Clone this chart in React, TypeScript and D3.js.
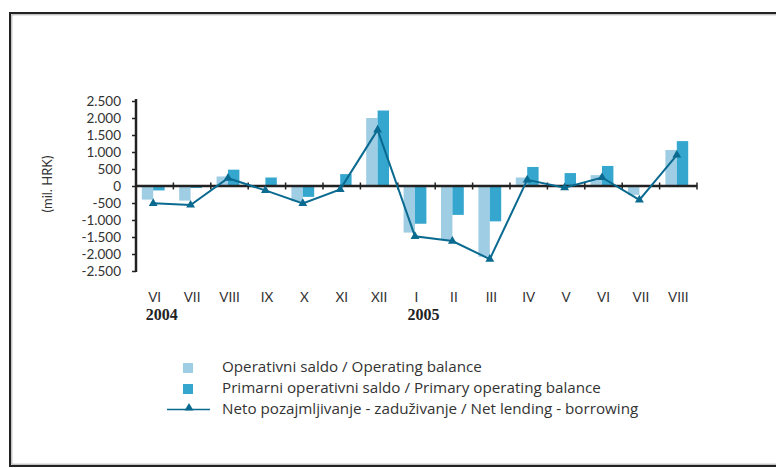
import * as d3 from "d3";
import { useEffect, useRef } from "react";

const WIDTH = 776;
const HEIGHT = 468;
const MARGIN = { top: 101, left: 136, right: 81, bottom: 197 };

const categories = ["VI", "VII", "VIII", "IX", "X", "XI", "XII", "I", "II", "III", "IV", "V", "VI", "VII", "VIII"];
const years = [{ index: 0, label: "2004" }, { index: 7, label: "2005" }];
const operatingBalance = [-400, -430, 280, -20, -450, 20, 2000, -1370, -1590, -2080, 250, -30, 320, -260, 1060];
const primaryBalance = [-130, -60, 480, 250, -320, 350, 2220, -1110, -850, -1040, 560, 380, 590, -10, 1320];
const netLending = [-510, -560, 230, -130, -510, -100, 1650, -1480, -1620, -2150, 180, -50, 250, -410, 910];
const yTicks = [-2500, -2000, -1500, -1000, -500, 0, 500, 1000, 1500, 2000, 2500];
const legendLabels = [
  "Operativni saldo / Operating balance",
  "Primarni operativni saldo / Primary operating balance",
  "Neto pozajmljivanje - zaduživanje / Net lending - borrowing",
];

const LIGHT = "#9fcde4";
const DARK = "#35a7cf";
const LINE = "#0a6a90";
const FONT = "Lato, 'Open Sans', sans-serif";
const LEGEND_FONT = "'Open Sans', Lato, sans-serif";

const fmt = (v: number) => d3.format(",")(v).replace(/,/g, ".").replace("\u2212", "-");

export default function App() {
  const ref = useRef<SVGSVGElement>(null);

  useEffect(() => {
    const svg = d3.select(ref.current);
    svg.selectAll("*").remove();

    // frame
    svg.append("rect").attr("x", 10).attr("y", 13).attr("width", 800).attr("height", 453)
      .attr("fill", "white").attr("stroke", "#222").attr("stroke-width", 2);
    svg.append("rect").attr("x", 11.8).attr("y", 14.8).attr("width", 800).attr("height", 449.4)
      .attr("fill", "none").attr("stroke", "#aaa").attr("stroke-width", 1);

    const x0 = MARGIN.left;
    const x1 = WIDTH - MARGIN.right + 2;
    const x = d3.scaleBand().domain(categories.map((_, i) => String(i))).range([x0, x1]);
    const y = d3.scaleLinear().domain([-2500, 2500]).range([HEIGHT - MARGIN.bottom, MARGIN.top]);
    const bw = 11.4;

    const g = svg.append("g");

    // bars
    const cx = (i: number) => (x(String(i)) as number) + x.bandwidth() / 2 - 1.5;
    g.selectAll(".op").data(operatingBalance).enter().append("rect")
      .attr("x", (_, i) => cx(i) - bw)
      .attr("width", bw)
      .attr("y", (d) => y(Math.max(0, d)))
      .attr("height", (d) => Math.abs(y(d) - y(0)))
      .attr("fill", LIGHT);
    g.selectAll(".pr").data(primaryBalance).enter().append("rect")
      .attr("x", (_, i) => cx(i))
      .attr("width", bw)
      .attr("y", (d) => y(Math.max(0, d)))
      .attr("height", (d) => Math.abs(y(d) - y(0)))
      .attr("fill", DARK);

    // y axis
    const yAxis = g.append("g").attr("transform", `translate(${x0},0)`)
      .call(d3.axisLeft(y).tickValues(yTicks).tickSize(4).tickPadding(11).tickFormat((d) => fmt(d as number)));
    yAxis.select(".domain").attr("stroke", "#222").attr("stroke-width", 2.5)
      .attr("d", `M0,${y(-2500) + 1}V${y(2500) - 2}`);
    yAxis.selectAll(".tick line").attr("stroke", "#222").attr("stroke-width", 1.5);
    yAxis.selectAll(".tick text").attr("font-family", FONT).attr("font-size", 13.5).attr("fill", "#333");

    // x axis at zero
    const zero = y(0);
    g.append("line").attr("x1", x0).attr("x2", x1).attr("y1", zero).attr("y2", zero)
      .attr("stroke", "#222").attr("stroke-width", 2.5);
    const bounds = categories.map((_, i) => (x(String(i)) as number) + x.bandwidth());
    g.selectAll(".xt").data(bounds).enter().append("line")
      .attr("x1", (d) => d).attr("x2", (d) => d)
      .attr("y1", zero - 3.5).attr("y2", zero + 3.5)
      .attr("stroke", "#222").attr("stroke-width", 1.5);

    // category labels
    g.selectAll(".cat").data(categories).enter().append("text")
      .attr("x", (_, i) => (x(String(i)) as number) + x.bandwidth() / 2)
      .attr("y", 302)
      .attr("text-anchor", "middle")
      .attr("font-family", FONT).attr("font-size", 13.5).attr("fill", "#333")
      .text((d) => d);
    g.selectAll(".yr").data(years).enter().append("text")
      .attr("x", (d) => (x(String(d.index)) as number) + x.bandwidth() / 2 - 9)
      .attr("y", 320)
      .attr("font-family", "'Liberation Serif', serif").attr("font-weight", "bold")
      .attr("font-size", 16).attr("fill", "#222")
      .text((d) => d.label);

    // line series
    const line = d3.line<number>().x((_, i) => cx(i)).y((d) => y(d));
    g.append("path").datum(netLending).attr("d", line).attr("fill", "none")
      .attr("stroke", LINE).attr("stroke-width", 2);
    const tri = d3.symbol().type(d3.symbolTriangle).size(34);
    g.selectAll(".mk").data(netLending).enter().append("path")
      .attr("d", tri)
      .attr("transform", (d, i) => `translate(${cx(i)},${y(d)})`)
      .attr("fill", LINE);

    // y label
    svg.append("text")
      .attr("transform", "translate(52,184) rotate(-90)")
      .attr("text-anchor", "middle")
      .attr("font-family", FONT).attr("font-size", 13).attr("fill", "#333")
      .text("(mil. HRK)");

    // legend
    const lg = svg.append("g").attr("font-family", LEGEND_FONT).attr("font-size", 15.2).attr("fill", "#333");
    lg.append("rect").attr("x", 183).attr("y", 363).attr("width", 10).attr("height", 10).attr("fill", LIGHT);
    lg.append("rect").attr("x", 183).attr("y", 384).attr("width", 10).attr("height", 10).attr("fill", DARK);
    lg.append("line").attr("x1", 167).attr("x2", 210).attr("y1", 409.5).attr("y2", 409.5)
      .attr("stroke", LINE).attr("stroke-width", 1.5);
    lg.append("path").attr("d", tri).attr("transform", "translate(189,408)").attr("fill", LINE);
    lg.selectAll(".lt").data(legendLabels).enter().append("text")
      .attr("x", 222).attr("y", (_, i) => 372 + i * 21)
      .text((d) => d);
  }, []);

  return (
    <svg
      ref={ref}
      width={WIDTH}
      height={HEIGHT}
      style={{ position: "absolute", left: 0, top: 0, background: "white" }}
    />
  );
}
